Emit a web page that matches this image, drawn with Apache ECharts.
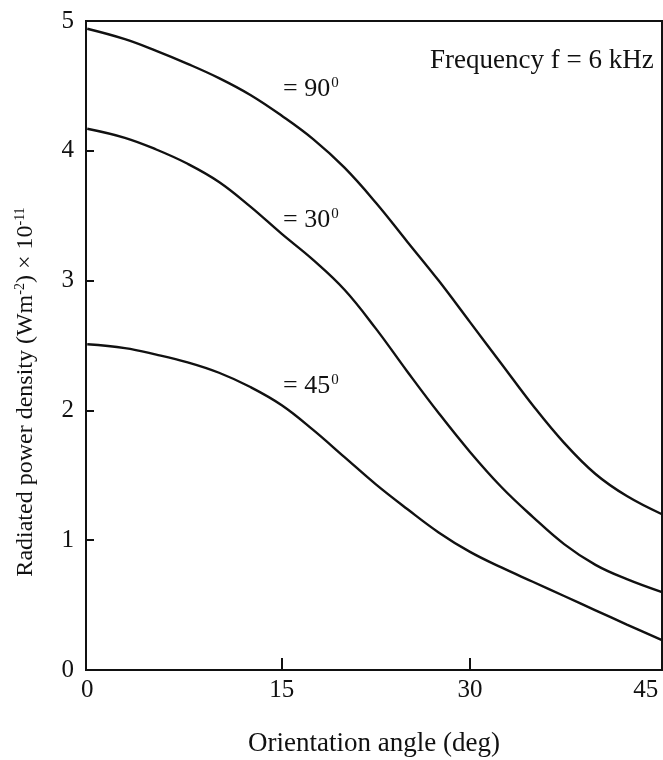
<!DOCTYPE html>
<html>
<head>
<meta charset="utf-8">
<script src="https://cdn.jsdelivr.net/npm/echarts@6/dist/echarts.min.js"></script>
<style>
  html, body { margin: 0; padding: 0; background: #fff; }
  #chart { width: 663px; height: 760px; }
</style>
</head>
<body>
<div id="chart"></div>
<script>
  // values (x in deg, y in 1e-11 W/m2)
  var angles = [-0.5, 2.5, 5, 7.5, 10, 12.5, 15, 17.5, 20, 22.5, 25, 27.5, 30, 32.5, 35, 37.5, 40, 42.5, 45.3];
  var p90 = [4.94, 4.86, 4.77, 4.67, 4.56, 4.43, 4.27, 4.09, 3.87, 3.60, 3.30, 3.00, 2.68, 2.36, 2.04, 1.75, 1.51, 1.34, 1.20];
  var p30 = [4.17, 4.10, 4.01, 3.90, 3.76, 3.57, 3.36, 3.16, 2.93, 2.63, 2.30, 1.98, 1.68, 1.41, 1.18, 0.97, 0.81, 0.70, 0.60];
  var p45 = [2.51, 2.48, 2.43, 2.37, 2.29, 2.18, 2.04, 1.85, 1.64, 1.43, 1.24, 1.06, 0.91, 0.79, 0.68, 0.57, 0.46, 0.35, 0.23];
  var xTickLabels = [0, 15, 30, 45];
  var xTicks = [15, 30];
  var yTicks = [1, 2, 3, 4];
  var curveNames = ["= 90", "= 30", "= 45"];

  var serif = "'Liberation Serif', 'Times New Roman', serif", ink = "#111";

  function pairs(xs, ys){
    return xs.map(function (x, i) { return [x, ys[i]]; });
  }

  function curve(name, ys){
    return {
      name: name,
      type: 'line',
      smooth: 0.4,
      symbol: 'none',
      lineStyle: {color: ink, width: 2.4},
      data: pairs(angles, ys)
    };
  }

  var supRich = {s: {fontSize: 15, fontFamily: serif, fill: ink, verticalAlign: 'top', padding: [0, 0, 12, 1]}};

  function tag(text, left, y){
    return {
      type: 'text', left: left, top: y - 14,
      style: {text: text + '{s|0}', fill: ink, font: '26px ' + serif, rich: supRich}
    };
  }

  var chart = echarts.init(document.getElementById('chart'));
  chart.setOption({
    animation: false,
    grid: {left: 86, right: 1, top: 21, bottom: 90, show: true, borderColor: ink, borderWidth: 2, outerBoundsMode: 'none'},
    xAxis: {
      type: 'value', min: -0.6, max: 45.3,
      name: 'Orientation angle (deg)', nameLocation: 'middle', nameGap: 60,
      nameTextStyle: {fontFamily: serif, fontSize: 27, color: ink},
      axisLine: {lineStyle: {color: ink, width: 2}},
      axisTick: {inside: true, length: 12, customValues: xTicks, lineStyle: {color: ink, width: 2}},
      axisLabel: {
        customValues: xTickLabels, margin: 8, fontFamily: serif, fontSize: 25, color: ink,
        alignMinLabel: 'right', alignMaxLabel: 'right'
      },
      splitLine: {show: false}
    },
    yAxis: {
      type: 'value', min: 0, max: 5, interval: 1,
      axisLine: {onZero: false, lineStyle: {color: ink, width: 2}},
      axisTick: {inside: true, length: 8, customValues: yTicks, lineStyle: {color: ink, width: 2}},
      axisLabel: {margin: 12, fontFamily: serif, fontSize: 25, color: ink},
      splitLine: {show: false}
    },
    series: [curve(curveNames[0], p90), curve(curveNames[1], p30), curve(curveNames[2], p45)],
    graphic: [
      {type: 'text', left: 430, top: 47, style: {text: 'Frequency f = 6 kHz', fill: ink, font: '27px ' + serif}},
      {
        type: 'text', x: 26, y: 392, rotation: Math.PI / 2,
        style: {
          text: '{n|Radiated power density (Wm}{s|-2}{n|) × 10}{s|-11}',
          align: 'center', verticalAlign: 'middle',
          rich: {
            n: {fontFamily: serif, fontSize: 24, fill: ink},
            s: {fontFamily: serif, fontSize: 14, fill: ink, verticalAlign: 'top', padding: [0, 0, 11, 0]}
          }
        }
      },
      tag(curveNames[0], 283, 90),
      tag(curveNames[1], 283, 221),
      tag(curveNames[2], 283, 387)
    ]
  });
</script>
</body>
</html>
